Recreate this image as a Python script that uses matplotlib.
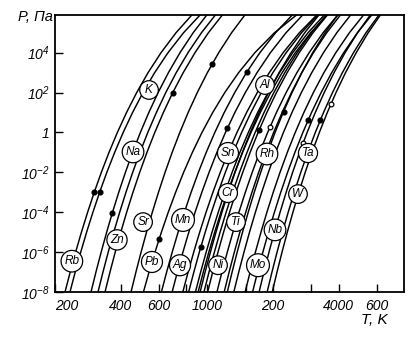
import matplotlib
matplotlib.use("Agg")
import matplotlib.pyplot as plt
from matplotlib.ticker import FixedLocator, NullLocator

# Saturated vapour pressure of metals: temperature (K) reached at each pressure level
pressures = [1e-8, 1e-7, 1e-6, 1e-5, 1e-4, 1e-3, 1e-2, 1e-1,
             1, 1e1, 1e2, 1e3, 1e4, 1e5, 1e6]  # Pa

T_Rb = [222.3, 234.8, 248.7, 264.4, 282.3, 302.7, 326.3, 353.8, 386.5, 425.8, 474.0, 534.6, 612.9, 718.0, 866.6]
T_K = [234.3, 247.6, 262.5, 279.3, 298.5, 320.4, 345.8, 375.6, 411.0, 453.8, 506.5, 573.1, 659.8, 777.4, 946.2]
T_Na = [292.6, 308.2, 325.7, 345.2, 367.2, 392.2, 420.8, 453.9, 492.8, 538.8, 594.4, 662.8, 748.9, 860.7, 1011.9]
T_Cd = [315.0, 332.0, 350.9, 372.1, 396.0, 423.2, 454.4, 490.6, 533.0, 583.5, 644.5, 719.8, 815.0, 939.2, 1108.2]
T_Zn = [339.2, 357.5, 377.8, 400.7, 426.4, 455.7, 489.3, 528.2, 573.9, 628.2, 693.9, 775.0, 877.4, 1011.1, 1192.9]
T_Sr = [446.5, 470.2, 496.5, 525.9, 559.1, 596.7, 639.7, 689.4, 747.5, 816.3, 899.0, 1000.3, 1127.4, 1291.5, 1511.7]
T_Pb = [509.0, 540.1, 575.3, 615.4, 661.6, 715.2, 778.2, 853.4, 944.7, 1057.9, 1201.9, 1391.2, 1651.5, 2031.3, 2638.5]
T_Mn = [615.4, 650.4, 689.8, 734.1, 784.5, 842.4, 909.5, 988.1, 1081.8, 1194.9, 1334.6, 1511.0, 1741.6, 2054.7, 2505.6]
T_Ag = [689.3, 728.5, 772.5, 822.0, 878.4, 943.1, 1018.1, 1105.9, 1210.5, 1336.9, 1492.8, 1689.8, 1946.7, 2295.2, 2796.4]
T_Sn = [771.5, 816.0, 865.9, 922.2, 986.4, 1060.2, 1146.0, 1246.9, 1367.2, 1513.3, 1694.3, 1924.2, 2226.7, 2642.0, 3247.8]
T_Al = [820.4, 866.9, 918.9, 977.5, 1044.2, 1120.6, 1209.2, 1312.9, 1436.0, 1584.5, 1767.4, 1998.0, 2297.8, 2703.4, 3284.1]
T_Cu = [881.8, 931.5, 987.4, 1050.3, 1121.8, 1203.7, 1298.5, 1409.6, 1541.5, 1700.4, 1896.1, 2142.7, 2463.1, 2895.2, 3512.5]
T_Au = [907.0, 958.2, 1015.6, 1080.4, 1153.9, 1238.1, 1335.7, 1449.9, 1585.5, 1748.9, 1950.1, 2203.1, 2532.3, 2977.1, 3611.4]
T_Cr = [926.3, 976.5, 1032.5, 1095.3, 1166.2, 1246.9, 1339.8, 1447.4, 1573.8, 1724.4, 1907.3, 2133.1, 2420.1, 2795.6, 3309.1]
T_Fe = [964.6, 1017.7, 1077.0, 1143.6, 1219.2, 1305.3, 1404.5, 1520.0, 1656.2, 1819.2, 2018.2, 2265.5, 2582.0, 3001.2, 3583.0]
T_Ni = [1003.0, 1057.6, 1118.6, 1186.9, 1264.2, 1352.1, 1453.3, 1570.8, 1709.1, 1874.1, 2074.2, 2322.3, 2637.8, 3051.6, 3620.6]
T_Ti = [1106.2, 1166.7, 1234.3, 1310.0, 1395.7, 1493.4, 1605.9, 1736.4, 1890.4, 2074.2, 2297.8, 2575.3, 2929.1, 3394.4, 4037.1]
T_V = [1194.3, 1258.3, 1329.6, 1409.4, 1499.5, 1601.5, 1718.8, 1854.6, 2013.7, 2202.6, 2430.7, 2711.5, 3065.6, 3526.1, 4149.4]
T_Rh = [1234.4, 1298.7, 1370.1, 1449.7, 1539.4, 1640.7, 1756.2, 1889.3, 2044.6, 2227.2, 2445.6, 2711.5, 3042.3, 3465.0, 4025.8]
T_Pt = [1322.0, 1393.2, 1472.3, 1560.8, 1660.9, 1774.6, 1905.1, 2055.9, 2233.1, 2443.8, 2698.3, 3012.0, 3408.3, 3923.1, 4623.2]
T_Zr = [1490.3, 1570.8, 1660.9, 1761.5, 1875.5, 2005.2, 2154.2, 2326.7, 2529.7, 2770.9, 3063.7, 3424.7, 3883.5, 4482.3, 5302.2]
T_Mo = [1612.1, 1699.5, 1797.3, 1906.6, 2030.5, 2171.1, 2333.2, 2520.8, 2742.0, 3004.8, 3324.5, 3718.9, 4221.2, 4878.0, 5780.3]
T_Nb = [1726.8, 1817.2, 1917.5, 2029.6, 2155.6, 2298.3, 2461.2, 2649.0, 2867.8, 3126.0, 3435.2, 3812.4, 4282.7, 4885.2, 5685.0]
T_Ta = [1880.1, 1978.6, 2088.1, 2210.4, 2348.5, 2504.4, 2682.4, 2887.7, 3127.9, 3410.6, 3749.5, 4163.2, 4679.5, 5341.9, 6226.7]
T_W = [1984.5, 2086.8, 2200.2, 2326.7, 2468.5, 2628.1, 2810.6, 3020.2, 3263.7, 3549.9, 3891.1, 4302.9, 4816.8, 5464.5, 6317.1]

curves = [
    ("Rb", T_Rb), ("K", T_K), ("Na", T_Na), ("Cd", T_Cd), ("Zn", T_Zn),
    ("Sr", T_Sr), ("Pb", T_Pb), ("Mn", T_Mn), ("Ag", T_Ag), ("Sn", T_Sn),
    ("Al", T_Al), ("Cu", T_Cu), ("Au", T_Au), ("Cr", T_Cr), ("Fe", T_Fe),
    ("Ni", T_Ni), ("Ti", T_Ti), ("V", T_V), ("Rh", T_Rh), ("Pt", T_Pt),
    ("Zr", T_Zr), ("Mo", T_Mo), ("Nb", T_Nb), ("Ta", T_Ta), ("W", T_W),
]

# Melting points marked on the curves
melt_filled_T = [303, 321, 366, 694, 601, 1050, 934, 1235, 1519, 1728, 2237, 2896, 3290]
melt_filled_P = [1e-3, 1e-3, 9.1e-5, 100, 4.4e-6, 2630, 1.8e-6, 1.6, 1100, 1.3, 11, 4.1, 4.0]
melt_open_T = [1941, 2750, 3695]
melt_open_P = [1.95, 0.3, 28]

# Circled symbols (name, T, P)
labels = [
    ("K", 540, 135), ("Na", 456, 0.105), ("Rb", 239, 3.5e-7), ("Zn", 385, 4.1e-6),
    ("Sr", 507, 3.2e-5), ("Pb", 557, 3.2e-7), ("Mn", 773, 4.1e-5), ("Ag", 749, 2.2e-7),
    ("Al", 1838, 240), ("Sn", 1243, 0.093), ("Rh", 1877, 0.083), ("Ta", 2895, 0.093),
    ("Cr", 1243, 9.2e-4), ("Ti", 1353, 3.2e-5), ("Ni", 1119, 2.2e-7), ("Mo", 1707, 2.2e-7),
    ("Nb", 2043, 1.3e-5), ("W", 2604, 8.1e-4),
]

x_ticks = [200, 400, 600, 800, 1000, 1500, 2000, 3000, 4000, 6000]
x_tick_labels = ["200", "400", "600", "", "1000", "", "200", "", "4000", "600"]
y_ticks = [1e-8, 1e-6, 1e-4, 1e-2, 1, 1e2, 1e4]
y_tick_labels = [r"$10^{-8}$", r"$10^{-6}$", r"$10^{-4}$", r"$10^{-2}$", r"$1$",
                 r"$10^{2}$", r"$10^{4}$"]

plt.rcParams["font.family"] = ["Liberation Sans", "DejaVu Sans"]
plt.rcParams["font.style"] = "italic"
plt.rcParams["mathtext.fontset"] = "custom"
plt.rcParams["mathtext.rm"] = "Liberation Sans:italic"
plt.rcParams["mathtext.it"] = "Liberation Sans:italic"

fig = plt.figure(figsize=(4.12, 3.41), dpi=100)
ax = fig.add_axes([55 / 412, 49 / 341, 349 / 412, 277 / 341])

for name, temps in curves:
    ax.plot(temps, pressures, color="black", lw=1.05, zorder=2)

ax.plot(melt_filled_T, melt_filled_P, "o", ms=3.4, color="black", zorder=4)
ax.plot(melt_open_T, melt_open_P, "o", ms=3.4, mfc="white", mec="black", mew=0.9, zorder=4)

for name, t, p in labels:
    ax.text(t, p, name, ha="center", va="center", fontsize=8.5, style="italic",
            zorder=5,
            bbox=dict(boxstyle="circle,pad=0.28", fc="white", ec="black", lw=0.9))

ax.set_xscale("log")
ax.set_yscale("log")
ax.set_xlim(200, 7980)
ax.set_ylim(1e-8, 10 ** 5.89)

ax.xaxis.set_major_locator(FixedLocator(x_ticks))
ax.xaxis.set_minor_locator(NullLocator())
ax.set_xticklabels(x_tick_labels)
ax.yaxis.set_major_locator(FixedLocator(y_ticks))
ax.yaxis.set_minor_locator(NullLocator())
ax.set_yticklabels(y_tick_labels)

ax.tick_params(axis="both", direction="in", length=6, width=1.0, labelsize=10,
               colors="black")
ax.tick_params(axis="x", pad=5)
ax.tick_params(axis="y", pad=4)
ax.get_xticklabels()[0].set_horizontalalignment("left")

for sp in ax.spines.values():
    sp.set_linewidth(1.3)

fig.text(18 / 412, 1 - 17 / 341, "P, Па", fontsize=10.5, style="italic",
         ha="left", va="center")
fig.text(374 / 412, 1 - 320 / 341, "T, K", fontsize=11, style="italic",
         ha="center", va="center")

fig.savefig("out.png", dpi=100, facecolor="white")
